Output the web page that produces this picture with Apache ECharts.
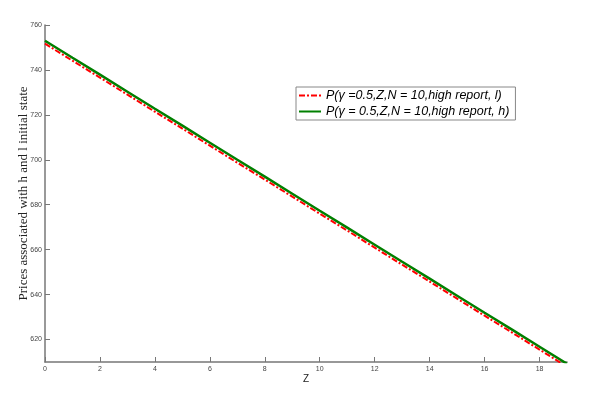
<!DOCTYPE html>
<html><head><meta charset="utf-8">
<script src="https://cdn.jsdelivr.net/npm/echarts@6/dist/echarts.min.js"></script>
<style>html,body{margin:0;padding:0;background:#fff}#c{width:600px;height:403px}</style>
</head><body><div id="c"></div>
<script>
const zValues = [0,1,2,3,4,5,6,7,8,9,10,11,12,13,14,15,16,17,18,19];
const priceLow = [751.7,744.1,736.6,729.0,721.4,713.9,706.3,698.7,691.2,683.6,676.0,668.5,660.9,653.3,645.8,638.2,630.6,623.1,615.5,607.9];
const priceHigh = [753.0,745.4,737.9,730.3,722.7,715.2,707.6,700.0,692.5,684.9,677.3,669.8,662.2,654.6,647.1,639.5,631.9,624.4,616.8,609.2];
const yTicks = [620,640,660,680,700,720,740,760];
const xTicks = [0,2,4,6,8,10,12,14,16,18];
const nameLow = 'P(γ =0.5,Z,N = 10,high report, l)';
const nameHigh = 'P(γ = 0.5,Z,N = 10,high report, h)';

const chart = echarts.init(document.getElementById('c'));
const axisCol = '#777';
chart.setOption({
  backgroundColor: '#fff',
  animation: false,
  grid: {left: 45, top: 25, right: 33, bottom: 41},
  legend: {
    orient: 'vertical', left: 296, top: 87,
    backgroundColor: '#fff', borderColor: '#888', borderWidth: 1,
    padding: [2, 6, 2, 2], itemGap: 3, itemWidth: 22, itemHeight: 12,
    itemStyle: {opacity: 0},
    textStyle: {fontFamily: 'Arial, Liberation Sans', fontStyle: 'italic', fontSize: 12.5, color: '#000'},
    data: [nameLow, nameHigh]
  },
  xAxis: {
    type: 'value', min: 0, max: 19,
    name: 'Z', nameLocation: 'middle', nameGap: 12, nameMoveOverlap: false,
    nameTextStyle: {fontFamily: 'Arial, Liberation Sans', fontSize: 10, color: '#222'},
    axisLine: {lineStyle: {color: axisCol, width: 1.5}},
    axisTick: {inside: true, length: 5, lineStyle: {color: axisCol}, customValues: xTicks},
    axisLabel: {fontFamily: 'Arial, Liberation Sans', fontSize: 7, color: '#444', margin: 4, customValues: xTicks},
    splitLine: {show: false}
  },
  yAxis: {
    type: 'value', min: 610, max: 760,
    name: 'Prices associated with h and l initial state', nameLocation: 'middle', nameGap: 15, nameMoveOverlap: false,
    nameTextStyle: {fontFamily: 'Liberation Serif, Times New Roman, serif', fontSize: 13, color: '#222'},
    axisLine: {show: true, lineStyle: {color: axisCol, width: 1.5}},
    axisTick: {show: true, inside: true, length: 5, lineStyle: {color: axisCol}, customValues: yTicks},
    axisLabel: {fontFamily: 'Arial, Liberation Sans', fontSize: 7, color: '#444', margin: 3, customValues: yTicks},
    splitLine: {show: false}
  },
  series: [
    {
      name: nameLow, type: 'line', symbol: 'none', clip: true,
      data: zValues.map((z, i) => [z, priceLow[i]]),
      lineStyle: {color: '#ff0000', width: 2, type: [6, 2, 2, 2]},
      itemStyle: {color: '#ff0000'}, z: 3
    },
    {
      name: nameHigh, type: 'line', symbol: 'none', clip: true,
      data: zValues.map((z, i) => [z, priceHigh[i]]),
      lineStyle: {color: '#008000', width: 2.5},
      itemStyle: {color: '#008000'}, z: 2
    }
  ]
});
</script></body></html>
